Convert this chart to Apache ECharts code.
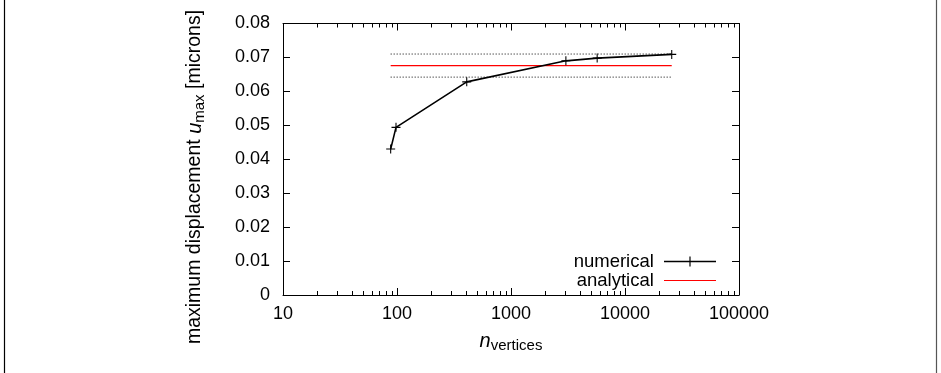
<!DOCTYPE html>
<html>
<head>
<meta charset="utf-8">
<script src="https://cdn.jsdelivr.net/npm/echarts@6/dist/echarts.min.js"></script>
<style>
html,body{margin:0;padding:0;background:#fff;}
#chart{width:941px;height:373px;}
</style>
</head>
<body>
<div id="chart"></div>
<script>
// ---- data ----
const nVertices = [88, 98, 409, 3030, 5700, 25700];
const uMaxNumerical = [0.0430, 0.0494, 0.0628, 0.0690, 0.0698, 0.0709];
const analyticalX = [88, 25700];
const analyticalValue = [0.0676, 0.0676];
const upperBound = [0.0710, 0.0710];
const lowerBound = [0.0642, 0.0642];
const xMajorTicks = [10, 100, 1000, 10000, 100000];
const xMinorTicks = [20,30,40,50,60,70,80,90,200,300,400,500,600,700,800,900,
  2000,3000,4000,5000,6000,7000,8000,9000,20000,30000,40000,50000,60000,70000,80000,90000];
const yTicks = [0, 0.01, 0.02, 0.03, 0.04, 0.05, 0.06, 0.07, 0.08];

const FONT = '"Liberation Sans", Arial, Helvetica, sans-serif';
const FS = 18;
const pair = (xs, ys) => xs.map((x, i) => [x, ys[i]]);
const plus = 'path://M-0.6,-5H0.6V-0.6H5V0.6H0.6V5H-0.6V0.6H-5V-0.6H-0.6Z';
const legendNumIcon = 'path://M0,4.2H52V5.8H0Z M25.4,0H26.6V10H25.4Z M21,4.4H31V5.6H21Z';
const legendAnaIcon = 'path://M0,0H52V1H0Z';

const chart = echarts.init(document.getElementById('chart'), null, {renderer: 'canvas'});

const xAxisBase = {
  type: 'log', logBase: 10, min: xMajorTicks[0], max: xMajorTicks[xMajorTicks.length - 1],
  axisLine: {show: true, onZero: false, lineStyle: {color: '#000', width: 1}},
  axisTick: {show: true, inside: true, length: 7, lineStyle: {color: '#000', width: 1}},
  splitLine: {show: false},
  minorTick: {show: false},
};
const yAxisBase = {
  type: 'value', min: yTicks[0], max: yTicks[yTicks.length - 1], interval: 0.01,
  axisLine: {show: true, lineStyle: {color: '#000', width: 1}},
  axisTick: {show: true, inside: true, length: 7, lineStyle: {color: '#000', width: 1}},
  splitLine: {show: false},
};

chart.setOption({
  animation: false,
  backgroundColor: '#fff',
  textStyle: {fontFamily: FONT},
  grid: {left: 283, right: 202, top: 23.5, bottom: 78, containLabel: false},
  xAxis: [
    Object.assign({}, xAxisBase, {
      position: 'bottom',
      axisLabel: {show: true, color: '#000', fontSize: FS, fontFamily: FONT, margin: 10,
        formatter: v => String(Math.round(v))},
      name: '{i|n}{s|vertices}',
      nameLocation: 'middle', nameGap: 34,
      nameTextStyle: {
        color: '#000', fontFamily: FONT,
        rich: {
          i: {fontSize: 20, fontStyle: 'italic', fontFamily: FONT, color: '#000'},
          s: {fontSize: 15, fontFamily: FONT, color: '#000', padding: [9, 0, 0, 0]}
        }
      }
    }),
    Object.assign({}, xAxisBase, {position: 'top', axisLabel: {show: false}})
  ],
  yAxis: [
    Object.assign({}, yAxisBase, {
      position: 'left',
      axisLabel: {show: true, color: '#000', fontSize: FS, fontFamily: FONT, margin: 13,
        formatter: v => (Math.abs(v) < 1e-12 ? '0' : v.toFixed(2))}
    }),
    Object.assign({}, yAxisBase, {position: 'right', axisLabel: {show: false}})
  ],
  legend: {
    orient: 'vertical', right: 225, top: 252, padding: 0, itemGap: 0,
    itemWidth: 52, itemHeight: 14, align: 'right',
    data: [
      {name: 'numerical', icon: legendNumIcon},
      {name: 'analytical', icon: legendAnaIcon}
    ],
    formatter: n => n + ' ',
    textStyle: {color: '#000', fontSize: 18.5, fontFamily: FONT, lineHeight: 18}
  },
  graphic: [
    {type: 'line', shape: {x1: 4.5, y1: 0, x2: 4.5, y2: 373}, style: {stroke: '#000', lineWidth: 1.2}},
    {type: 'line', shape: {x1: 936.5, y1: 0, x2: 936.5, y2: 373}, style: {stroke: '#555', lineWidth: 1.2}},
    {
      type: 'text', x: 195, y: 177, rotation: Math.PI / 2,
      style: {
        text: 'maximum displacement {i|u}{s|max} [microns]',
        align: 'center', verticalAlign: 'middle',
        fontSize: 19.5, fontFamily: FONT, fill: '#000',
        rich: {
          i: {fontSize: 20, fontStyle: 'italic', fontFamily: FONT, fill: '#000'},
          s: {fontSize: 15, fontFamily: FONT, fill: '#000', padding: [9, 0, 0, 0]}
        }
      }
    }
  ],
  series: [
    {
      name: 'upper', type: 'line', data: pair(analyticalX, upperBound),
      symbol: 'none', lineStyle: {color: '#000', width: 1, type: [1, 2]}, silent: true
    },
    {
      name: 'lower', type: 'line', data: pair(analyticalX, lowerBound),
      symbol: 'none', lineStyle: {color: '#000', width: 1, type: [1, 2]}, silent: true
    },
    {
      name: 'analytical', type: 'line', data: pair(analyticalX, analyticalValue),
      symbol: 'none', itemStyle: {color: '#ff0000'}, lineStyle: {color: '#ff0000', width: 1.2}, z: 3
    },
    {
      name: 'numerical', type: 'line', data: pair(nVertices, uMaxNumerical),
      symbol: plus, symbolSize: 9, showSymbol: true,
      itemStyle: {color: '#000'}, lineStyle: {color: '#000', width: 1.6}, z: 5
    },
    {
      name: 'minorTicks', type: 'custom', silent: true, clip: false,
      data: xMinorTicks.map(v => [v, 0]),
      renderItem: function (params, api) {
        const p = api.coord([api.value(0), 0]);
        const cs = params.coordSys;
        const x = Math.round(p[0]) + 0.5;
        const yb = cs.y + cs.height, yt = cs.y;
        return {
          type: 'group',
          children: [
            {type: 'line', shape: {x1: x, y1: yb, x2: x, y2: yb - 4}, style: {stroke: '#000', lineWidth: 1}},
            {type: 'line', shape: {x1: x, y1: yt, x2: x, y2: yt + 4}, style: {stroke: '#000', lineWidth: 1}}
          ]
        };
      }
    }
  ]
});
</script>
</body>
</html>
